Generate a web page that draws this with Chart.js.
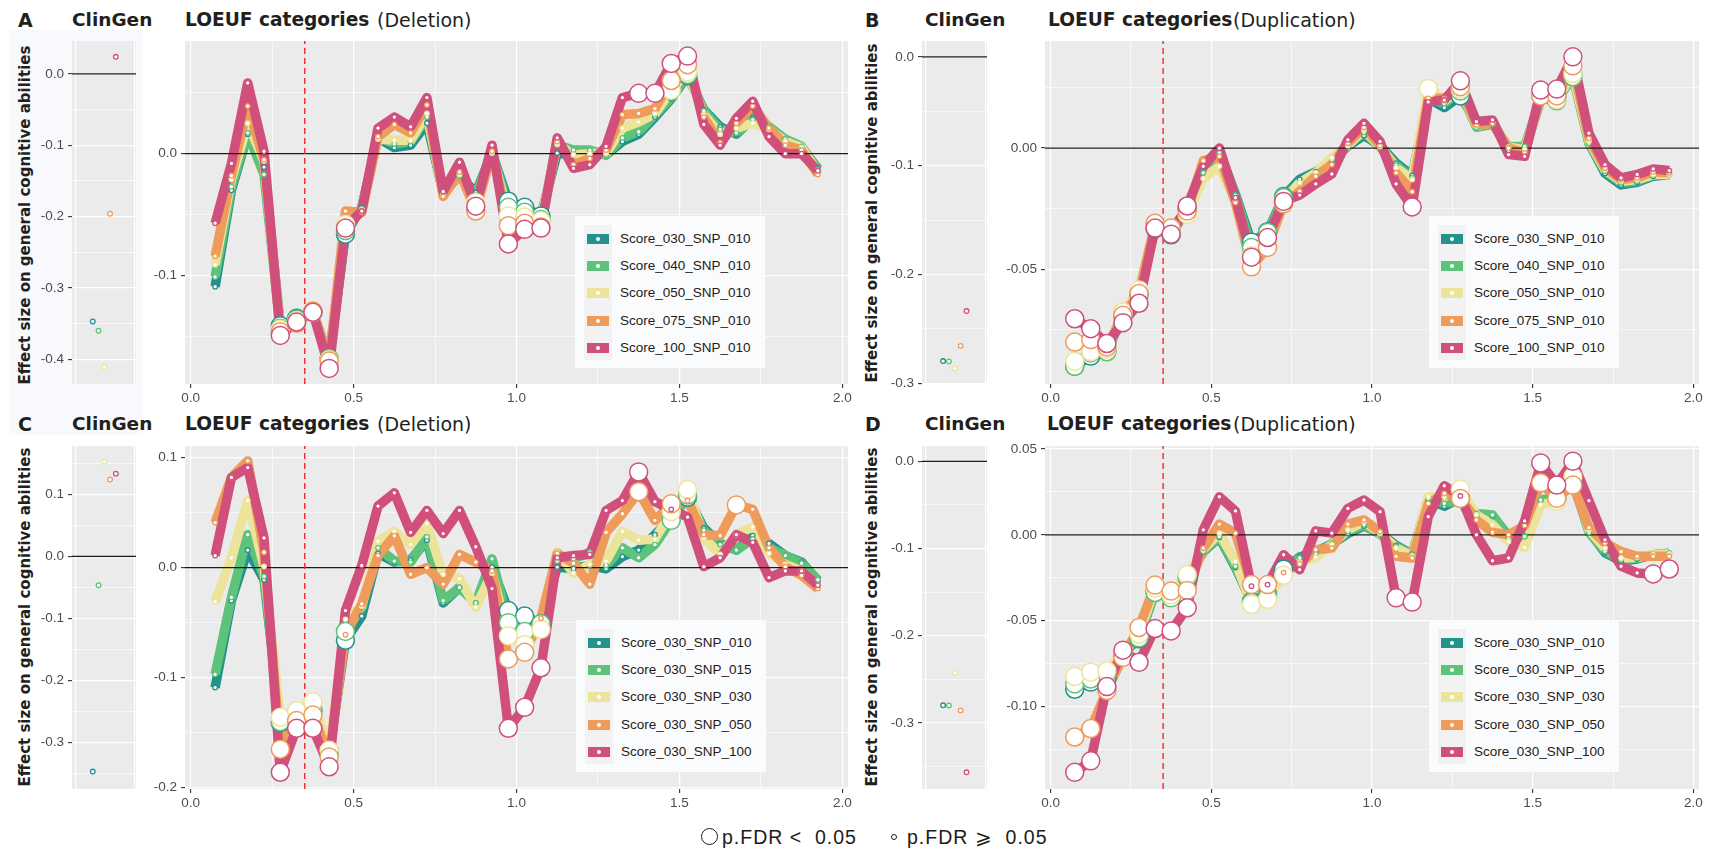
<!DOCTYPE html>
<html lang="en">
<head>
<meta charset="UTF-8">
<title>LOEUF categories – effect size on general cognitive abilities</title>
<script src="https://cdn.jsdelivr.net/npm/chart.js"></script>
<style>
  body { margin: 0; background: #fff; }
  #fig { position: relative; width: 1710px; height: 849px; overflow: hidden; }
  #fig canvas { position: absolute; }
  .txt { position: absolute; font-family: "DejaVu Sans", sans-serif; color: #231f1c; line-height: 1; white-space: nowrap; }
  .tag { font-size: 19px; font-weight: bold; }
  .clin { font-size: 18.5px; font-weight: bold; }
  .loeuf { font-size: 18.6px; font-weight: bold; }
  .cnv { font-size: 19px; }
  .ytitle { position: absolute; width: 400px; height: 20px; line-height: 20px; text-align: center;
            font: bold 15px "DejaVu Sans", sans-serif; color: #231f1c; transform: rotate(-90deg); white-space: nowrap; }
  .shade { position: absolute; background: #F7F9FC; }
  .legend { position: absolute; width: 190px; height: 152px; background: #FAFBFD; }
  .keycol { position: absolute; left: 9px; top: 9px; width: 28px; height: 135px; background: #F2F2F2; }
  .key { position: absolute; left: 12px; width: 22px; height: 10px; }
  .key::after { content: ''; position: absolute; left: 9px; top: 3px; width: 4px; height: 4px; border-radius: 50%; background: #fff; }
  .lab { position: absolute; left: 45px; height: 16px; line-height: 16px; font: 13.5px "Liberation Sans", Arial, sans-serif; color: #1f1a17; white-space: nowrap; }
  .fdr { position: absolute; font: 19.5px "Liberation Sans", Arial, sans-serif; letter-spacing: 1px; color: #1f1a17; line-height: 22px; white-space: nowrap; }
  .ring { position: absolute; border: 1.5px solid #1f1a17; border-radius: 50%; box-sizing: border-box; }
</style>
</head>
<body>
<div id="fig">
  <div class="shade" style="left:9px; top:30px; width:134px; height:405px;"></div>

  <span class="txt tag" style="left:18px; top:11px;">A</span>
  <span class="txt clin" style="left:72px; top:11px;">ClinGen</span>
  <span class="txt loeuf" style="left:185px; top:11px;">LOEUF categories</span>
  <span class="txt cnv" style="left:377px; top:11px;">(Deletion)</span>

  <span class="txt tag" style="left:865px; top:11px;">B</span>
  <span class="txt clin" style="left:925px; top:11px;">ClinGen</span>
  <span class="txt loeuf" style="left:1048px; top:11px;">LOEUF categories</span>
  <span class="txt cnv" style="left:1233px; top:11px;">(Duplication)</span>

  <span class="txt tag" style="left:18px; top:415px;">C</span>
  <span class="txt clin" style="left:72px; top:415px;">ClinGen</span>
  <span class="txt loeuf" style="left:185px; top:415px;">LOEUF categories</span>
  <span class="txt cnv" style="left:377px; top:415px;">(Deletion)</span>

  <span class="txt tag" style="left:865px; top:415px;">D</span>
  <span class="txt clin" style="left:925px; top:415px;">ClinGen</span>
  <span class="txt loeuf" style="left:1047px; top:415px;">LOEUF categories</span>
  <span class="txt cnv" style="left:1233px; top:415px;">(Duplication)</span>

  <div class="ytitle" style="left:-174px; top:205px;">Effect size on general cognitive abilities</div>
  <div class="ytitle" style="left:673px; top:203px;">Effect size on general cognitive abilities</div>
  <div class="ytitle" style="left:-174px; top:607px;">Effect size on general cognitive abilities</div>
  <div class="ytitle" style="left:673px; top:607px;">Effect size on general cognitive abilities</div>

  <div class="ring" style="left:701px; top:828px; width:17px; height:17px;"></div>
  <span class="fdr" style="left:722px; top:826px;">p.FDR &lt;&nbsp; 0.05</span>
  <div class="ring" style="left:891px; top:834px; width:6px; height:6px; border-width:1.2px;"></div>
  <span class="fdr" style="left:907px; top:826px;">p.FDR ⩾&nbsp; 0.05</span>
</div>

<script>
// LOEUF bins (bin centres)
const loeufX = [0.075, 0.125, 0.175, 0.225, 0.275, 0.325, 0.375, 0.425, 0.475, 0.525,
                0.575, 0.625, 0.675, 0.725, 0.775, 0.825, 0.875, 0.925, 0.975, 1.025,
                1.075, 1.125, 1.175, 1.225, 1.275, 1.325, 1.375, 1.425, 1.475, 1.525,
                1.575, 1.625, 1.675, 1.725, 1.775, 1.825, 1.875, 1.925];
const loeufCut = 0.35;

// Deletion effect sizes
const delScore030Snp010 = [-0.109, -0.030, 0.016, -0.011, -0.141, -0.135, -0.130, -0.168, -0.066, -0.044,
  0.013, 0.005, 0.007, 0.025, -0.032, -0.018, -0.032, 0.0005, -0.039, -0.044,
  -0.051, 0.0005, -0.001, 0.002, -0.001, 0.010, 0.016, 0.030, 0.045, 0.064,
  0.036, 0.022, 0.016, 0.029, 0.022, 0.011, 0.005, -0.012];
const delScore040Snp010 = [-0.101, -0.027, 0.017, -0.017, -0.143, -0.136, -0.130, -0.168, -0.063, -0.045,
  0.014, 0.008, 0.010, 0.030, -0.032, -0.018, -0.034, 0.001, -0.044, -0.048,
  -0.054, 0.007, 0.003, 0.003, -0.001, 0.013, 0.018, 0.032, 0.046, 0.065,
  0.035, 0.020, 0.017, 0.028, 0.022, 0.012, 0.006, -0.013];
const delScore050Snp010 = [-0.091, -0.021, 0.025, -0.006, -0.144, -0.137, -0.130, -0.169, -0.058, -0.046,
  0.012, 0.011, 0.011, 0.033, -0.033, -0.017, -0.040, 0.0005, -0.051, -0.052,
  -0.055, 0.008, -0.001, 0.000, 0.0005, 0.021, 0.026, 0.033, 0.052, 0.067,
  0.032, 0.016, 0.021, 0.025, 0.020, 0.010, 0.005, -0.015];
const delScore075Snp010 = [-0.084, -0.018, 0.039, -0.005, -0.146, -0.139, -0.129, -0.170, -0.047, -0.048,
  0.014, 0.024, 0.017, 0.040, -0.035, -0.015, -0.047, 0.002, -0.059, -0.057,
  -0.060, 0.010, -0.009, -0.004, 0.003, 0.032, 0.033, 0.037, 0.060, 0.073,
  0.030, 0.009, 0.025, 0.039, 0.021, 0.007, 0.003, -0.017];
const delScore100Snp010 = [-0.057, -0.008, 0.058, 0.002, -0.149, -0.138, -0.130, -0.176, -0.061, -0.047,
  0.021, 0.030, 0.022, 0.046, -0.031, -0.007, -0.043, 0.007, -0.074, -0.062,
  -0.061, 0.013, -0.012, -0.009, 0.006, 0.046, 0.0495, 0.0495, 0.074, 0.080,
  0.024, 0.007, 0.029, 0.043, 0.014, 0.000, 0.000, -0.014];
const delScore030Snp015 = [-0.097, -0.027, 0.030, -0.008, -0.140, -0.134, -0.130, -0.167, -0.058, -0.036,
  0.018, 0.006, 0.005, 0.028, -0.030, -0.018, -0.032, 0.008, -0.050, -0.058,
  -0.051, 0.006, 0.008, 0.014, 0.002, 0.018, 0.009, 0.021, 0.043, 0.066,
  0.034, 0.021, 0.016, 0.026, 0.018, 0.011, 0.004, -0.011];
const delScore030Snp030 = [-0.031, 0.009, 0.061, 0.001, -0.136, -0.130, -0.122, -0.166, -0.047, -0.035,
  0.024, 0.033, 0.021, 0.040, -0.006, -0.010, -0.036, -0.005, -0.062, -0.070,
  -0.056, 0.014, -0.005, 0.003, 0.006, 0.033, 0.025, 0.026, 0.051, 0.071,
  0.027, 0.012, 0.030, 0.037, 0.013, 0.003, -0.003, -0.016];
const delScore030Snp050 = [0.041, 0.082, 0.097, 0.014, -0.165, -0.139, -0.134, -0.172, -0.061, -0.033,
  0.011, 0.029, -0.006, 0.000, -0.015, 0.012, 0.005, -0.003, -0.083, -0.077,
  -0.046, 0.013, 0.004, -0.015, 0.032, 0.049, 0.069, 0.043, 0.058, 0.061,
  0.030, 0.029, 0.057, 0.053, 0.018, 0.001, -0.007, -0.019];
const delScore030Snp100 = [0.011, 0.082, 0.091, 0.027, -0.186, -0.146, -0.146, -0.181, -0.039, 0.002,
  0.056, 0.068, 0.032, 0.052, 0.031, 0.052, 0.019, -0.019, -0.146, -0.127,
  -0.091, 0.009, 0.011, 0.012, 0.052, 0.061, 0.087, 0.060, 0.053, 0.046,
  0.001, 0.009, 0.030, 0.023, -0.009, -0.003, -0.003, -0.016];

// Duplication effect sizes
const dupScore030Snp010 = [-0.090, -0.0858, -0.0837, -0.0693, -0.0606, -0.0332, -0.0358, -0.025, -0.0098, -0.0015,
  -0.019, -0.0388, -0.0345, -0.020, -0.0129, -0.0098, -0.0053, 0.0008, 0.0052, 0.001,
  -0.0062, -0.0114, 0.0205, 0.0167, 0.0215, 0.011, 0.011, -0.001, -0.0008, 0.020,
  0.021, 0.0307, 0.0022, -0.0104, -0.0152, -0.0141, -0.0116, -0.0109];
const dupScore040Snp010 = [-0.090, -0.0845, -0.084, -0.068, -0.059, -0.032, -0.0335, -0.0253, -0.0102, -0.002,
  -0.0195, -0.041, -0.0348, -0.0205, -0.0143, -0.0109, -0.0048, 0.0014, 0.0065, 0.0004,
  -0.0071, -0.0123, 0.0205, 0.0184, 0.0235, 0.0085, 0.0098, 0.0005, 0.0007, 0.0205,
  0.0195, 0.0294, 0.002, -0.0095, -0.0143, -0.0136, -0.0112, -0.0106];
const dupScore050Snp010 = [-0.088, -0.084, -0.083, -0.0676, -0.0585, -0.0315, -0.033, -0.0273, -0.0126, -0.0075,
  -0.022, -0.0444, -0.038, -0.022, -0.0143, -0.0102, -0.004, 0.0011, 0.0075, 0.0007,
  -0.0082, -0.013, 0.0246, 0.0194, 0.0243, 0.0093, 0.0106, 0.0003, -0.0007, 0.021,
  0.020, 0.0307, 0.003, -0.0089, -0.0136, -0.013, -0.0109, -0.0109];
const dupScore075Snp010 = [-0.080, -0.079, -0.082, -0.069, -0.060, -0.031, -0.033, -0.026, -0.0052, -0.0034,
  -0.0225, -0.049, -0.041, -0.023, -0.0178, -0.0116, -0.0068, 0.002, 0.0085, 0.0011,
  -0.0102, -0.018, 0.0205, 0.0205, 0.0253, 0.0096, 0.0102, 0.000, -0.002, 0.0215,
  0.0215, 0.0339, 0.004, -0.0082, -0.013, -0.0123, -0.0098, -0.0102];
const dupScore100Snp010 = [-0.0704, -0.0745, -0.0806, -0.072, -0.064, -0.033, -0.0355, -0.0239, -0.0075, 0.000,
  -0.0205, -0.045, -0.0369, -0.022, -0.0194, -0.0148, -0.0107, 0.0034, 0.0102, 0.0027,
  -0.0148, -0.0243, 0.019, 0.0198, 0.0277, 0.0109, 0.0116, -0.0027, -0.0034, 0.0239,
  0.0243, 0.0376, 0.0061, -0.0068, -0.0123, -0.0109, -0.0086, -0.0093];
const dupScore030Snp015 = [-0.0869, -0.084, -0.081, -0.069, -0.060, -0.0336, -0.0367, -0.0245, -0.0097, -0.001,
  -0.0183, -0.0395, -0.036, -0.021, -0.0135, -0.011, -0.005, 0.0019, 0.0058, 0.0004,
  -0.0068, -0.0116, 0.0212, 0.0183, 0.0203, 0.0125, 0.0116, -0.0019, -0.001, 0.0203,
  0.022, 0.0335, 0.0015, -0.0095, -0.0145, -0.0135, -0.0116, -0.0106];
const dupScore030Snp030 = [-0.0826, -0.080, -0.0792, -0.068, -0.0579, -0.031, -0.035, -0.0232, -0.0085, 0.001,
  -0.0154, -0.0405, -0.0376, -0.0235, -0.016, -0.0131, -0.0058, 0.0029, 0.0077, 0.001,
  -0.0077, -0.0125, 0.0222, 0.0222, 0.0266, 0.0116, 0.0058, -0.0039, -0.0073, 0.0174,
  0.0197, 0.0338, 0.003, -0.0077, -0.0135, -0.0131, -0.0116, -0.0112];
const dupScore030Snp050 = [-0.1178, -0.1129, -0.0907, -0.0714, -0.054, -0.0293, -0.0328, -0.0324, -0.0077, 0.0062,
  0.001, -0.029, -0.029, -0.022, -0.017, -0.0087, -0.0077, 0.0062, 0.0087, 0.0019,
  -0.0125, -0.0135, 0.0183, 0.0241, 0.0212, 0.0087, 0.0015, 0.000, 0.0054, 0.0303,
  0.0212, 0.029, 0.0042, -0.0048, -0.0097, -0.0125, -0.0125, -0.0125];
const dupScore030Snp100 = [-0.1384, -0.1317, -0.0884, -0.0672, -0.0743, -0.0546, -0.056, -0.0425, 0.0029, 0.0222,
  0.0139, -0.0299, -0.029, -0.0116, -0.0203, 0.0023, 0.001, 0.0154, 0.0203, 0.0135,
  -0.0367, -0.0392, 0.0106, 0.0286, 0.0226, 0.000, -0.0151, -0.0135, 0.0081, 0.0419,
  0.029, 0.0429, 0.0199, -0.0029, -0.0183, -0.0222, -0.0228, -0.0199];

// Bins with p.FDR < 0.05
const delScore030Snp010Sig = [0.275, 0.325, 0.375, 0.425, 0.475, 0.975, 1.025, 1.075, 1.525];
const delScore040Snp010Sig = [0.275, 0.325, 0.375, 0.425, 0.475, 0.975, 1.025, 1.075, 1.525];
const delScore050Snp010Sig = [0.275, 0.325, 0.375, 0.425, 0.475, 0.875, 0.975, 1.025, 1.075, 1.475, 1.525];
const delScore075Snp010Sig = [0.275, 0.325, 0.375, 0.425, 0.875, 0.975, 1.025, 1.075, 1.475, 1.525];
const delScore100Snp010Sig = [0.275, 0.325, 0.375, 0.425, 0.475, 0.875, 0.975, 1.025, 1.075, 1.375, 1.425, 1.475, 1.525];
const delScore030Snp015Sig = [0.275, 0.325, 0.375, 0.425, 0.475, 0.975, 1.025, 1.075, 1.475, 1.525];
const delScore030Snp030Sig = [0.275, 0.325, 0.375, 0.425, 0.975, 1.025, 1.075, 1.475, 1.525];
const delScore030Snp050Sig = [0.275, 0.325, 0.375, 0.425, 0.975, 1.025, 1.375, 1.475, 1.675];
const delScore030Snp100Sig = [0.275, 0.325, 0.375, 0.425, 0.975, 1.025, 1.075, 1.375];

const dupScore030Snp010Sig = [0.075, 0.125, 0.175, 0.225, 0.275, 0.325, 0.375, 0.425, 0.625, 0.675, 0.725, 1.275, 1.575, 1.625];
const dupScore040Snp010Sig = [0.075, 0.125, 0.175, 0.225, 0.275, 0.325, 0.375, 0.425, 0.625, 0.675, 0.725, 1.275, 1.575, 1.625];
const dupScore050Snp010Sig = [0.075, 0.125, 0.175, 0.225, 0.275, 0.325, 0.375, 0.425, 0.625, 0.675, 0.725, 1.175, 1.275, 1.575, 1.625];
const dupScore075Snp010Sig = [0.075, 0.125, 0.175, 0.225, 0.275, 0.325, 0.375, 0.425, 0.625, 0.675, 0.725, 1.275, 1.525, 1.575, 1.625];
const dupScore100Snp010Sig = [0.075, 0.125, 0.175, 0.225, 0.275, 0.325, 0.375, 0.425, 0.625, 0.675, 0.725, 1.125, 1.275, 1.525, 1.575, 1.625];
const dupScore030Snp015Sig = [0.075, 0.125, 0.175, 0.225, 0.275, 0.325, 0.375, 0.425, 0.625, 0.675];
const dupScore030Snp030Sig = [0.075, 0.125, 0.175, 0.225, 0.275, 0.325, 0.375, 0.425, 0.625, 0.675, 0.725, 1.275, 1.575, 1.625];
const dupScore030Snp050Sig = [0.075, 0.125, 0.175, 0.225, 0.275, 0.325, 0.375, 0.425, 0.625, 0.675, 1.275, 1.525, 1.575, 1.625];
const dupScore030Snp100Sig = [0.075, 0.125, 0.175, 0.225, 0.275, 0.325, 0.375, 0.425, 1.075, 1.125, 1.525, 1.575, 1.625, 1.875, 1.925];

// ClinGen genes, one estimate per score set (none significant)
const clinGroup = [1, 2, 3, 4, 5];
const clinDelScore = [-0.347, -0.360, -0.411, -0.196, 0.024];
const clinDupScore = [-0.2797, -0.2800, -0.2864, -0.2657, -0.2337];
const clinDelSnp = [-0.347, -0.0465, 0.153, 0.124, 0.1335];
const clinDupSnp = [-0.2797, -0.2798, -0.2426, -0.2855, -0.3565];

const scoreNames = ['Score_030_SNP_010', 'Score_040_SNP_010', 'Score_050_SNP_010', 'Score_075_SNP_010', 'Score_100_SNP_010'];
const snpNames = ['Score_030_SNP_010', 'Score_030_SNP_015', 'Score_030_SNP_030', 'Score_030_SNP_050', 'Score_030_SNP_100'];

// axis breaks
const loeufXTicks = [0, 0.5, 1, 1.5, 2];
const loeufXLabels = ['0.0', '0.5', '1.0', '1.5', '2.0'];
const loeufXMinor = [0.25, 0.75, 1.25, 1.75];

const palette = ['#23918C', '#5DC37B', '#EDE49C', '#EE9B5B', '#D0507B'];
const tickFont = { family: 'Liberation Sans', size: 13.5 };

const panels = [
  { series: [delScore030Snp010, delScore040Snp010, delScore050Snp010, delScore075Snp010, delScore100Snp010],
    sig: [delScore030Snp010Sig, delScore040Snp010Sig, delScore050Snp010Sig, delScore075Snp010Sig, delScore100Snp010Sig],
    clin: clinDelScore, names: scoreNames,
    y: { min: -0.1888, max: 0.0923, ticks: [0, -0.1], labels: ['0.0', '-0.1'], minor: [0.05, -0.05, -0.15] },
    cy: { min: -0.4345, max: 0.046, ticks: [0, -0.1, -0.2, -0.3, -0.4], labels: ['0.0', '-0.1', '-0.2', '-0.3', '-0.4'], minor: [-0.05, -0.15, -0.25, -0.35] },
    clinBox: { left: 72, top: 39, w: 64, h: 345 }, box: { left: 185, top: 39, w: 663, h: 345 }, legend: { left: 575, top: 216 } },
  { series: [dupScore030Snp010, dupScore040Snp010, dupScore050Snp010, dupScore075Snp010, dupScore100Snp010],
    sig: [dupScore030Snp010Sig, dupScore040Snp010Sig, dupScore050Snp010Sig, dupScore075Snp010Sig, dupScore100Snp010Sig],
    clin: clinDupScore, names: scoreNames,
    y: { min: -0.0973, max: 0.0441, ticks: [0, -0.05], labels: ['0.00', '-0.05'], minor: [0.025, -0.025, -0.075] },
    cy: { min: -0.3007, max: 0.0146, ticks: [0, -0.1, -0.2, -0.3], labels: ['0.0', '-0.1', '-0.2', '-0.3'], minor: [-0.05, -0.15, -0.25] },
    clinBox: { left: 922, top: 39, w: 65, h: 345 }, box: { left: 1045, top: 39, w: 654, h: 345 }, legend: { left: 1429, top: 216 } },
  { series: [delScore030Snp010, delScore030Snp015, delScore030Snp030, delScore030Snp050, delScore030Snp100],
    sig: [delScore030Snp010Sig, delScore030Snp015Sig, delScore030Snp030Sig, delScore030Snp050Sig, delScore030Snp100Sig],
    clin: clinDelSnp, names: snpNames,
    y: { min: -0.2012, max: 0.1105, ticks: [0.1, 0, -0.1, -0.2], labels: ['0.1', '0.0', '-0.1', '-0.2'], minor: [0.05, -0.05, -0.15] },
    cy: { min: -0.375, max: 0.1779, ticks: [0.1, 0, -0.1, -0.2, -0.3], labels: ['0.1', '0.0', '-0.1', '-0.2', '-0.3'], minor: [0.15, 0.05, -0.05, -0.15, -0.25, -0.35] },
    clinBox: { left: 72, top: 444, w: 64, h: 345 }, box: { left: 185, top: 444, w: 663, h: 345 }, legend: { left: 576, top: 620 } },
  { series: [dupScore030Snp010, dupScore030Snp015, dupScore030Snp030, dupScore030Snp050, dupScore030Snp100],
    sig: [dupScore030Snp010Sig, dupScore030Snp015Sig, dupScore030Snp030Sig, dupScore030Snp050Sig, dupScore030Snp100Sig],
    clin: clinDupSnp, names: snpNames,
    y: { min: -0.1481, max: 0.0517, ticks: [0.05, 0, -0.05, -0.1], labels: ['0.05', '0.00', '-0.05', '-0.10'], minor: [0.025, -0.025, -0.075, -0.125] },
    cy: { min: -0.3755, max: 0.0174, ticks: [0, -0.1, -0.2, -0.3], labels: ['0.0', '-0.1', '-0.2', '-0.3'], minor: [-0.05, -0.15, -0.25, -0.35] },
    clinBox: { left: 922, top: 444, w: 65, h: 345 }, box: { left: 1045, top: 444, w: 654, h: 345 }, legend: { left: 1429, top: 620 } }
];

const fig = document.getElementById('fig');
const near = (a, b) => Math.abs(a - b) < 1e-6;

const panelBg = {
  id: 'panelBg',
  beforeDraw(chart) {
    const a = chart.chartArea, ctx = chart.ctx;
    ctx.save();
    ctx.fillStyle = '#EBEBEB';
    ctx.fillRect(a.left, a.top, a.right - a.left, a.bottom - a.top);
    ctx.restore();
  }
};

function addCanvas(left, top, width, height) {
  const c = document.createElement('canvas');
  c.width = width; c.height = height;
  c.style.left = left + 'px'; c.style.top = top + 'px';
  c.style.width = width + 'px'; c.style.height = height + 'px';
  fig.appendChild(c);
  return c;
}

// linear axis with explicit major (labelled) and minor breaks
function axis(position, min, max, major, labels, minor, size, showLabels) {
  const all = major.concat(minor);
  const isMajor = c => c.tick && major.some(m => near(m, c.tick.value));
  return {
    type: 'linear', position, min, max,
    afterBuildTicks: s => { s.ticks = all.map(v => ({ value: v })); },
    afterFit: s => { if (position === 'left') s.width = size; else s.height = size; },
    ticks: {
      display: showLabels, autoSkip: false, maxRotation: 0, padding: position === 'left' ? 4 : 2,
      color: '#4D4D4D', font: tickFont,
      callback: v => { const i = major.findIndex(m => near(m, v)); return i < 0 ? '' : labels[i]; }
    },
    grid: {
      color: '#FFFFFF', drawTicks: showLabels, tickLength: 4, tickWidth: 1.1,
      lineWidth: c => isMajor(c) ? 1.2 : 0.6,
      tickColor: c => isMajor(c) ? '#333333' : 'rgba(0,0,0,0)'
    },
    border: { display: false }
  };
}

function baseOptions(padding, scales) {
  return {
    responsive: false, animation: false, devicePixelRatio: 1, events: [],
    layout: { padding, autoPadding: false },
    plugins: { legend: { display: false }, tooltip: { enabled: false } },
    scales
  };
}

function loeufChart(p) {
  const b = p.box, yW = 50, padT = 10, padR = 12, xH = 24, padB = 4;
  const cv = addCanvas(b.left - yW, b.top - padT, yW + b.w + padR, padT + b.h + xH + padB);
  const xMin = -0.0175, xMax = 2.0175;
  const datasets = [];
  p.series.forEach((ys, k) => {
    const pts = loeufX.map((x, i) => ({ x, y: ys[i] }));
    const sig = loeufX.map(x => p.sig[k].some(s => near(s, x)));
    datasets.push({ data: pts, borderColor: palette[k], borderWidth: 9.5, borderJoinStyle: 'round',
                    pointRadius: 0, pointHitRadius: 0, tension: 0, order: 20 - k });
    datasets.push({ data: pts, showLine: false, pointStyle: 'circle',
                    pointRadius: sig.map(s => s ? 9 : 2.3), pointBorderWidth: sig.map(s => s ? 1.5 : 1.3),
                    pointBackgroundColor: '#FFFFFF', pointBorderColor: palette[k], order: 10 - k });
  });
  datasets.push({ data: [{ x: xMin, y: 0 }, { x: xMax, y: 0 }], borderColor: '#1f1a17', borderWidth: 1.3, pointRadius: 0, order: 12 });
  datasets.push({ data: [{ x: loeufCut, y: p.y.min }, { x: loeufCut, y: p.y.max }], borderColor: '#F2262B',
                  borderWidth: 1.4, borderDash: [6, 4], pointRadius: 0, order: 11 });
  new Chart(cv, {
    type: 'line',
    data: { datasets },
    options: baseOptions({ top: padT, right: padR, bottom: padB, left: 0 }, {
      x: axis('bottom', xMin, xMax, loeufXTicks, loeufXLabels, loeufXMinor, xH, true),
      y: axis('left', p.y.min, p.y.max, p.y.ticks, p.y.labels, p.y.minor, yW, true)
    }),
    plugins: [panelBg]
  });
}

function clinChart(p) {
  const b = p.clinBox, yW = 40, padT = 10, padR = 4, padB = 12;
  const cv = addCanvas(b.left - yW, b.top - padT, yW + b.w + padR, padT + b.h + padB);
  const xMin = -2.6, xMax = 8.5;
  const datasets = p.clin.map((v, k) => ({
    data: [{ x: clinGroup[k], y: v }], showLine: false, pointRadius: 2.3, pointBorderWidth: 1.3,
    pointBackgroundColor: '#FFFFFF', pointBorderColor: palette[k], order: 5 - k
  }));
  datasets.push({ data: [{ x: xMin, y: 0 }, { x: xMax, y: 0 }], borderColor: '#1f1a17', borderWidth: 1.3, pointRadius: 0, order: 10 });
  new Chart(cv, {
    type: 'line',
    data: { datasets },
    options: baseOptions({ top: padT, right: padR, bottom: padB, left: 0 }, {
      x: axis('bottom', xMin, xMax, [-1.9, 8.2], ['', ''], [], 0, false),
      y: axis('left', p.cy.min, p.cy.max, p.cy.ticks, p.cy.labels, p.cy.minor, yW, true)
    }),
    plugins: [panelBg]
  });
}

function addLegend(p) {
  const box = document.createElement('div');
  box.className = 'legend';
  box.style.left = p.legend.left + 'px';
  box.style.top = p.legend.top + 'px';
  const col = document.createElement('div');
  col.className = 'keycol';
  box.appendChild(col);
  p.names.forEach((name, k) => {
    const cy = 23 + 27.2 * k;
    const key = document.createElement('div');
    key.className = 'key';
    key.style.top = (cy - 5) + 'px';
    key.style.background = palette[k];
    const lab = document.createElement('div');
    lab.className = 'lab';
    lab.style.top = (cy - 8) + 'px';
    lab.textContent = name;
    box.appendChild(key);
    box.appendChild(lab);
  });
  fig.appendChild(box);
}

panels.forEach(p => {
  clinChart(p);
  loeufChart(p);
  addLegend(p);
});
</script>
</body>
</html>
